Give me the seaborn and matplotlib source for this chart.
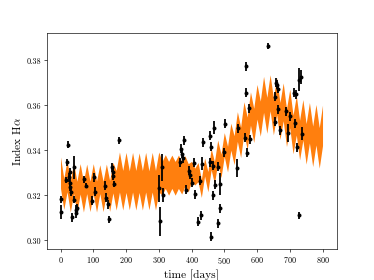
import numpy as np
import pandas as pd
import matplotlib
matplotlib.use("Agg")
import matplotlib.pyplot as plt
import seaborn as sns

days = [0, 3, 17, 19, 22, 26, 28, 29, 30, 31, 36, 40, 40, 46, 48, 50,
        72, 77, 95, 101, 105, 135, 140, 145, 149, 158, 161, 160, 164, 179,
        302, 304, 311, 312, 365, 368, 372, 376, 374, 384, 392, 396, 403, 408,
        411, 421, 426, 429, 432, 436, 455, 457, 460, 461, 465, 465, 469, 472,
        480, 482, 486, 488, 499, 502, 540, 543, 562, 565, 565, 568, 576, 578,
        633, 654, 657, 660, 665, 656, 663, 670, 687, 700, 694, 713, 719, 716,
        723, 727, 734, 737, 728]
halpha = [0.3182, 0.3125, 0.3267, 0.3346, 0.3425, 0.3280, 0.3301, 0.3256,
          0.3234, 0.3212, 0.3102, 0.3323, 0.3179, 0.3120, 0.3135, 0.3145,
          0.3271, 0.3242, 0.3174, 0.3279, 0.3215, 0.3242, 0.3189, 0.3160,
          0.3092, 0.3323, 0.3305, 0.3284, 0.3249, 0.3443,
          0.3230, 0.3084, 0.3323, 0.3200, 0.3346, 0.3406, 0.3385, 0.3443,
          0.3364, 0.3224, 0.3309, 0.3290, 0.3256, 0.3344, 0.3204, 0.3082,
          0.3264, 0.3110, 0.3340, 0.3435, 0.3464, 0.3346, 0.3015, 0.3416,
          0.3331, 0.3200, 0.3500, 0.3246, 0.3075, 0.3327, 0.3249, 0.3142,
          0.3391, 0.3518, 0.3321, 0.3498, 0.3456, 0.3774, 0.3656, 0.3388,
          0.3587, 0.3449, 0.3863, 0.3637, 0.3699, 0.3690, 0.3674, 0.3526,
          0.3582, 0.3488, 0.3573, 0.3550, 0.3476, 0.3655, 0.3649, 0.3520,
          0.3413, 0.3714, 0.3726, 0.3473, 0.3110]
halpha_err = [0.0015, 0.003, 0.0015, 0.0015, 0.0015, 0.002, 0.002, 0.002,
              0.0015, 0.0015, 0.002, 0.005, 0.0015, 0.002, 0.002, 0.0015,
              0.0015, 0.0012, 0.002, 0.002, 0.002, 0.002, 0.002, 0.002,
              0.0015, 0.002, 0.002, 0.0015, 0.0015, 0.0015,
              0.006, 0.0065, 0.006, 0.003, 0.002, 0.002, 0.002, 0.002,
              0.002, 0.002, 0.002, 0.002, 0.002, 0.002, 0.002, 0.002,
              0.002, 0.002, 0.003, 0.002, 0.002, 0.002, 0.002, 0.002,
              0.002, 0.002, 0.003, 0.002, 0.002, 0.002, 0.005, 0.002,
              0.002, 0.002, 0.004, 0.002, 0.002, 0.002, 0.002, 0.002,
              0.002, 0.002, 0.0015, 0.002, 0.002, 0.002, 0.002, 0.002,
              0.002, 0.002, 0.002, 0.002, 0.004, 0.002, 0.002, 0.002,
              0.002, 0.005, 0.003, 0.003, 0.0015]

# model band (upper / lower edge at each crest and trough)
band_t = list(range(0, 801, 10))
band_hi = [0.3370, 0.3275, 0.3355, 0.3265, 0.3345, 0.3262, 0.3340, 0.3260,
           0.3338, 0.3262, 0.3340, 0.3263, 0.3335, 0.3262, 0.3338, 0.3265,
           0.3345, 0.3310, 0.3392, 0.3310, 0.3390, 0.3308, 0.3390, 0.3310,
           0.3388, 0.3310, 0.3390, 0.3308, 0.3390, 0.3310, 0.3392, 0.3350,
           0.3380, 0.3350, 0.3378, 0.3350, 0.3378, 0.3350, 0.3375, 0.3340,
           0.3350, 0.3320, 0.3345, 0.3270, 0.3365, 0.3305, 0.3407, 0.3349,
           0.3445, 0.3382, 0.3478, 0.3417, 0.3520, 0.3464, 0.3571, 0.3503,
           0.3615, 0.3547, 0.3659, 0.3586, 0.3692, 0.3618, 0.3728, 0.3635,
           0.3735, 0.3632, 0.3722, 0.3612, 0.3699, 0.3584, 0.3671, 0.3556,
           0.3643, 0.3533, 0.3625, 0.3518, 0.3612, 0.3507, 0.3603, 0.3500,
           0.3600]
band_lo = [0.3230, 0.3137, 0.3215, 0.3125, 0.3207, 0.3122, 0.3205, 0.3125,
           0.3207, 0.3127, 0.3205, 0.3125, 0.3207, 0.3127, 0.3207, 0.3128,
           0.3210, 0.3134, 0.3214, 0.3134, 0.3212, 0.3135, 0.3214, 0.3134,
           0.3212, 0.3134, 0.3214, 0.3135, 0.3214, 0.3134, 0.3214, 0.3200,
           0.3230, 0.3200, 0.3230, 0.3200, 0.3230, 0.3205, 0.3240, 0.3215,
           0.3260, 0.3245, 0.3260, 0.3190, 0.3285, 0.3215, 0.3313, 0.3251,
           0.3345, 0.3278, 0.3372, 0.3303, 0.3400, 0.3336, 0.3439, 0.3367,
           0.3475, 0.3403, 0.3511, 0.3434, 0.3538, 0.3462, 0.3568, 0.3475,
           0.3575, 0.3468, 0.3558, 0.3448, 0.3531, 0.3416, 0.3499, 0.3384,
           0.3467, 0.3357, 0.3445, 0.3338, 0.3432, 0.3327, 0.3423, 0.3320,
           0.3420]

obs = pd.DataFrame({"time": days, "index": halpha, "err": halpha_err})

plt.rcParams["font.family"] = "serif"
plt.rcParams["font.serif"] = ["cmr10"]
plt.rcParams["mathtext.fontset"] = "cm"
plt.rcParams["axes.formatter.use_mathtext"] = True

fig, ax = plt.subplots(figsize=(6.4, 4.8))

ax.fill_between(band_t, band_lo, band_hi, color="#ff7f0e", linewidth=0, zorder=1)
ax.errorbar(obs["time"], obs["index"], yerr=obs["err"], fmt="none",
            ecolor="black", elinewidth=2.2, capsize=0, zorder=2)
sns.scatterplot(data=obs, x="time", y="index", color="black", s=24,
                edgecolor="black", linewidth=0, ax=ax, zorder=3)

ax.set_xlim(-42, 843)
ax.set_ylim(0.296, 0.392)
ax.set_xticks(range(0, 801, 100))
ax.set_yticks([0.30, 0.32, 0.34, 0.36, 0.38])
ax.set_yticklabels(["0.30", "0.32", "0.34", "0.36", "0.38"])
ax.set_xlabel("time [days]", fontsize=14)
ax.set_ylabel(r"Index H$\alpha$", fontsize=14)

fig.savefig("out.png", dpi=374 / 6.4)
